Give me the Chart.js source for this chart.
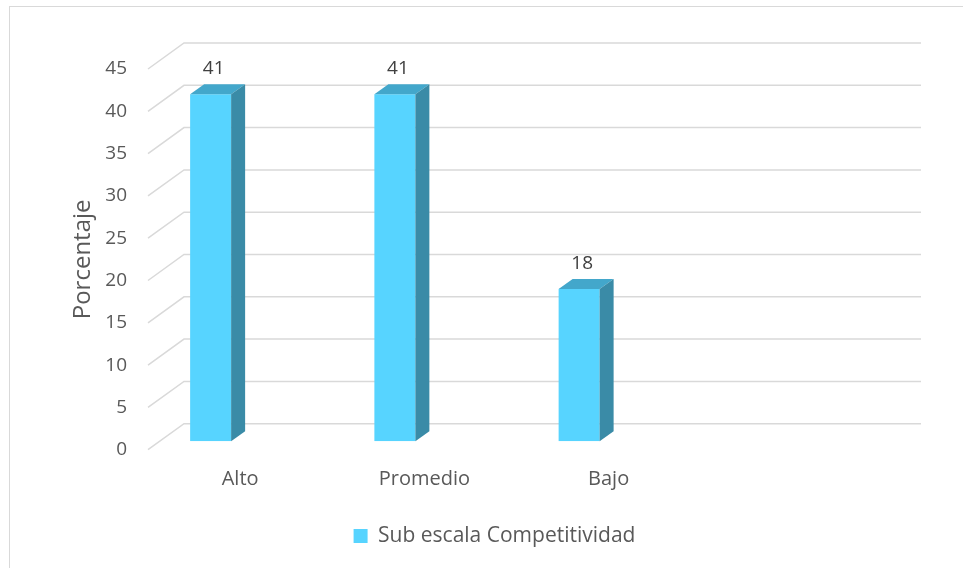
<!DOCTYPE html>
<html>
<head>
<meta charset="utf-8">
<script src="https://cdn.jsdelivr.net/npm/chart.js@4.4.0/dist/chart.umd.min.js"></script>
<style>
  html, body { margin: 0; padding: 0; background: #fff; }
  #wrap { position: relative; width: 963px; height: 568px; overflow: hidden; }
  #frame { position: absolute; left: 9px; top: 6px; width: 980px; height: 600px; border: 1.5px solid #d9d9d9; }
  #myChart { position: absolute; left: 0; top: 0; }
</style>
</head>
<body>
<div id="wrap">
  <div id="frame"></div>
  <canvas id="myChart" width="963" height="568"></canvas>
</div>
<script>
// datos del grafico
var categorias = ['Alto', 'Promedio', 'Bajo', ''];
var porcentajes = [41, 41, 18, null];
var serie = 'Sub escala Competitividad';
var tituloY = 'Porcentaje';

var colorFrente = '#57d4ff';
var colorArriba = '#43a7cb';
var colorLado = '#3a8ba7';
var colorGrid = '#d9d9d9';
var colorTexto = '#595959';
var fuente = 'Open Sans';

// efecto 3D (desplazamientos en px)
var fondo = { dx: 36, dy: -26 };   // plano del fondo respecto al plano frontal
var barra = { dx: -29.5, dy: -8.5 }; // plano de las barras
var prof = { dx: 14, dy: -10 };     // profundidad de la barra

Chart.defaults.font.family = fuente;
Chart.defaults.color = colorTexto;

// rejilla en perspectiva + caras laterales de las barras
const rejilla3D = {
    id: 'rejilla3D',
    beforeDatasetsDraw(chart) {
        const ctx = chart.ctx;
        const area = chart.chartArea;
        const y = chart.scales.y;
        ctx.save();
        ctx.strokeStyle = colorGrid;
        ctx.lineWidth = 1.5;
        y.ticks.forEach((t) => {
            const py = y.getPixelForValue(t.value);
            ctx.beginPath();
            ctx.moveTo(area.left, py);
            ctx.lineTo(area.left + fondo.dx, py + fondo.dy);
            ctx.lineTo(area.right + fondo.dx, py + fondo.dy);
            ctx.stroke();
        });
        ctx.restore();
        // mover las barras a su plano
        ctx.save();
        ctx.translate(barra.dx, barra.dy);
    },
    afterDatasetsDraw(chart) {
        const ctx = chart.ctx;
        const meta = chart.getDatasetMeta(0);
        meta.data.forEach((bar, i) => {
            const v = chart.data.datasets[0].data[i];
            if (v === null || v === undefined) return;
            const l = bar.x - bar.width / 2;
            const r = bar.x + bar.width / 2;
            const top = bar.y;
            const base = bar.base;
            // cara superior
            ctx.fillStyle = colorArriba;
            ctx.beginPath();
            ctx.moveTo(l, top);
            ctx.lineTo(l + prof.dx, top + prof.dy);
            ctx.lineTo(r + prof.dx, top + prof.dy);
            ctx.lineTo(r, top);
            ctx.closePath();
            ctx.fill();
            // cara lateral
            ctx.fillStyle = colorLado;
            ctx.beginPath();
            ctx.moveTo(r, top);
            ctx.lineTo(r + prof.dx, top + prof.dy);
            ctx.lineTo(r + prof.dx, base + prof.dy);
            ctx.lineTo(r, base);
            ctx.closePath();
            ctx.fill();
            // etiqueta
            ctx.fillStyle = '#404040';
            ctx.font = '19px "' + fuente + '"';
            ctx.textAlign = 'center';
            ctx.textBaseline = 'middle';
            ctx.fillText(String(v), bar.x + 3, top - 25.5);
        });
        ctx.restore();
    }
};

chart = new Chart('myChart', {
    type: 'bar',
    data: {
        labels: categorias,
        datasets: [{
            label: serie,
            data: porcentajes,
            backgroundColor: colorFrente,
            borderWidth: 0,
            barPercentage: 0.2225,
            categoryPercentage: 1
        }]
    },
    options: {
        responsive: false,
        animation: false,
        layout: { padding: { top: 69, right: 78, left: 104, bottom: 11.5 } },
        scales: {
            x: {
                grid: { display: false, drawTicks: false },
                border: { display: false },
                ticks: { font: { size: 20 }, padding: 18, color: colorTexto },
                afterFit: (s) => { s.height = 65.8; }
            },
            y: {
                min: 0,
                max: 45,
                ticks: { stepSize: 5, font: { size: 19 }, padding: 21, color: colorTexto },
                grid: { display: false, drawTicks: false },
                border: { display: false },
                title: { display: true, text: tituloY, font: { size: 24 }, color: colorTexto, padding: { top: -35.5, bottom: 0 } },
                afterFit: (s) => { s.width = 44; }
            }
        },
        plugins: {
            legend: {
                position: 'bottom',
                labels: { boxWidth: 14, boxHeight: 14, font: { size: 21 }, color: colorTexto, padding: 10 }
            },
            tooltip: { enabled: false }
        }
    },
    plugins: [rejilla3D]
});
</script>
</body>
</html>
